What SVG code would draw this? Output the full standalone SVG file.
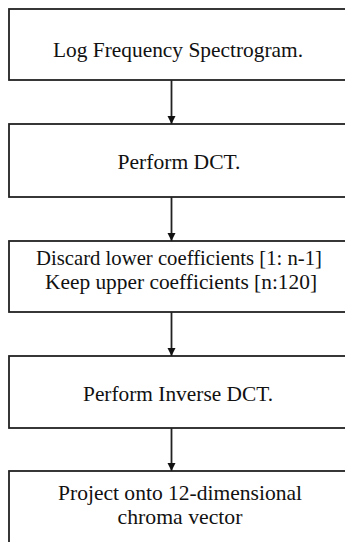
<svg xmlns="http://www.w3.org/2000/svg" width="345" height="542" viewBox="0 0 345 542">
<style>
.box{fill:#fff;stroke:#222;stroke-width:1.8}
.lbl{font-family:"Liberation Serif","Times New Roman",serif;font-size:21px;fill:#111;text-anchor:middle}
.edge{stroke:#222;stroke-width:1.8;fill:none}
</style>
<defs>
<marker id="ah" viewBox="0 0 10 10" refX="10" refY="5" markerWidth="4.5" markerHeight="4.5" markerUnits="strokeWidth" orient="auto">
<path d="M0,0 L10,5 L0,10 z" fill="#111"/>
</marker>
</defs>
<rect width="345" height="542" fill="#fff"/>
<g id="n1"><rect class="box" x="9" y="9" width="360" height="71"/><text class="lbl" x="178" y="56.5" textLength="250" lengthAdjust="spacingAndGlyphs">Log Frequency Spectrogram.</text></g>
<g id="n2"><rect class="box" x="9" y="124" width="360" height="73"/><text class="lbl" x="179" y="168.5" textLength="123" lengthAdjust="spacingAndGlyphs">Perform DCT.</text></g>
<g id="n3"><rect class="box" x="9" y="241" width="360" height="71"/><text class="lbl" x="179" y="265" textLength="286" lengthAdjust="spacingAndGlyphs">Discard lower coefficients [1: n-1]</text><text class="lbl" x="181" y="289" textLength="272" lengthAdjust="spacingAndGlyphs">Keep upper coefficients [n:120]</text></g>
<g id="n4"><rect class="box" x="9" y="356" width="360" height="72"/><text class="lbl" x="178" y="400.5" textLength="190" lengthAdjust="spacingAndGlyphs">Perform Inverse DCT.</text></g>
<g id="n5"><rect class="box" x="9" y="471" width="360" height="90"/><text class="lbl" x="180" y="500" textLength="244" lengthAdjust="spacingAndGlyphs">Project onto 12-dimensional</text><text class="lbl" x="180" y="524" textLength="125" lengthAdjust="spacingAndGlyphs">chroma vector</text></g>
<g id="edges">
<line class="edge" x1="171.5" y1="80" x2="171.5" y2="124" marker-end="url(#ah)"/>
<line class="edge" x1="171.5" y1="197" x2="171.5" y2="241" marker-end="url(#ah)"/>
<line class="edge" x1="171.5" y1="312" x2="171.5" y2="356" marker-end="url(#ah)"/>
<line class="edge" x1="171.5" y1="428" x2="171.5" y2="471" marker-end="url(#ah)"/>
</g>
</svg>
